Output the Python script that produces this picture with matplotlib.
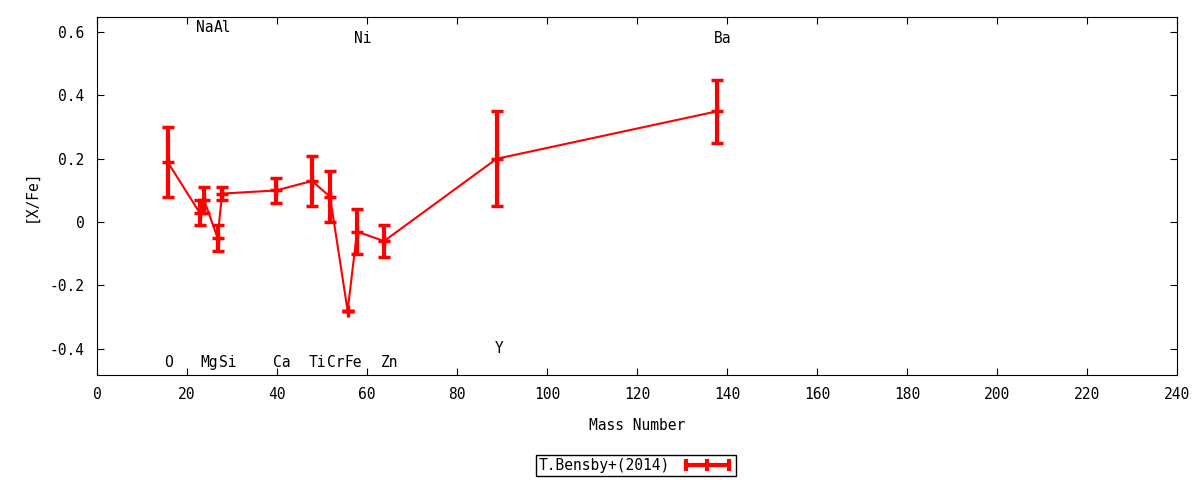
import numpy as np
import matplotlib
matplotlib.use('Agg')
import matplotlib.pyplot as plt
from matplotlib.lines import Line2D

plt.rcParams['font.family'] = 'DejaVu Sans Mono'

# datos
elementos = ['O', 'Na', 'Mg', 'Al', 'Si', 'Ca', 'Ti', 'Cr', 'Fe', 'Ni', 'Zn', 'Y', 'Ba']
masa = [15.7, 22.8, 23.8, 26.8, 27.8, 39.8, 47.8, 51.8, 55.7, 57.8, 63.8, 88.8, 137.8]
xfe = [0.19, 0.03, 0.07, -0.05, 0.09, 0.10, 0.13, 0.08, -0.28, -0.03, -0.06, 0.20, 0.35]
error = [0.11, 0.04, 0.04, 0.04, 0.02, 0.04, 0.08, 0.08, 0.0, 0.07, 0.05, 0.15, 0.10]

# posiciones de las etiquetas de cada elemento
etiq_x = [16.0, 24.0, 25.0, 28.0, 29.0, 41.0, 49.0, 53.0, 57.0, 59.0, 65.0, 89.3, 139.0]
etiq_y = [-0.445, 0.615, -0.445, 0.615, -0.445, -0.445, -0.445, -0.445, -0.445, 0.58, -0.445, -0.40, 0.58]

fig = plt.figure(figsize=(12, 4.8), dpi=100)
ax = fig.add_axes([0.0808, 0.2188, 0.9, 0.7458])

ax.errorbar(masa, xfe, yerr=error, color='red', lw=1.5, elinewidth=3, capsize=4,
            capthick=3, marker='+', ms=9, mew=2.5)

for i in range(len(elementos)):
    ax.text(etiq_x[i], etiq_y[i], elementos[i], ha='center', va='center', fontsize=10.5)

ax.set_xlim(0, 240)
ax.set_ylim(-0.483, 0.648)
ax.set_xticks(np.arange(0, 241, 20))
ax.set_yticks([-0.4, -0.2, 0, 0.2, 0.4, 0.6])
ax.set_yticklabels(['-0.4', '-0.2', '0', '0.2', '0.4', '0.6'])
ax.tick_params(direction='in', top=True, right=True, length=5, labelsize=10.5, pad=9)
ax.set_xlabel('Mass Number', fontsize=10.5, labelpad=11)
ax.set_ylabel('[X/Fe]', fontsize=10.5, labelpad=8)

muestra = Line2D([0], [0], color='red', lw=3, marker='|', ms=9, mew=3)
leg = fig.legend(handles=[muestra], labels=['T.Bensby+(2014)'], loc='center',
                 bbox_to_anchor=(0.53, 0.031), fontsize=10.5, numpoints=3,
                 fancybox=False, framealpha=1, edgecolor='black', markerfirst=False,
                 handlelength=3.5, borderpad=0.2)
leg.get_frame().set_linewidth(1)

fig.savefig('out.png', dpi=100)
